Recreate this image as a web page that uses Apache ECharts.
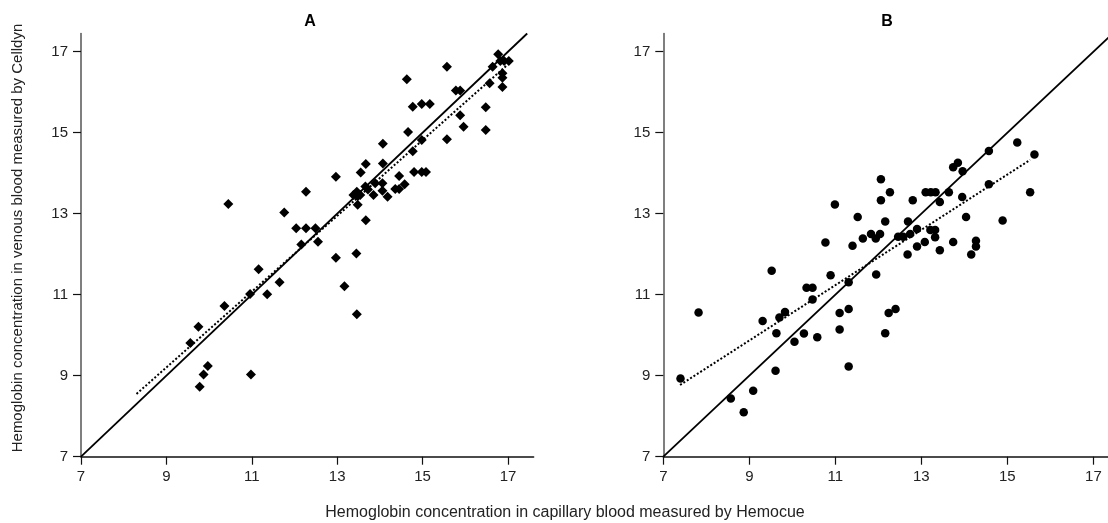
<!DOCTYPE html>
<html>
<head>
<meta charset="utf-8">
<script src="https://cdn.jsdelivr.net/npm/echarts@6/dist/echarts.min.js"></script>
<style>
  html, body { margin: 0; padding: 0; background: #fff; }
  #chart { width: 1108px; height: 523px; }
</style>
</head>
<body>
<div id="chart"></div>
<script>
// tick labels shared by all four axes
var ticks = [7, 9, 11, 13, 15, 17];

// panel A: Hemocue (x) vs Celldyn (y), diamonds
var hemocueA = [9.56, 9.75, 9.78, 9.87, 9.97, 10.98, 10.36, 10.96, 11.16, 11.36, 11.65, 10.45,
    11.76, 12.04, 12.27, 12.49, 12.16, 12.55, 12.27, 12.97, 13.17, 13.45, 13.46, 12.97,
    13.67, 13.48, 13.38, 13.46, 13.54, 13.48, 13.66, 13.72, 13.85, 13.89, 14.06, 14.06,
    14.18, 13.55, 13.67, 14.07, 14.07, 14.36, 14.45, 14.58, 14.45, 14.8, 14.98, 15.08,
    14.66, 14.63, 14.77, 14.98, 15.17, 14.98, 14.77, 15.57, 15.78, 15.88, 15.88, 15.96,
    15.57, 16.48, 16.48, 16.57, 16.64, 16.77, 16.82, 16.91, 17.02, 16.87, 16.87, 16.87];
var celldynA = [9.81, 10.21, 8.73, 9.03, 9.24, 9.03, 10.72, 11.02, 11.63, 11.01, 11.31, 13.24,
    13.03, 12.64, 12.64, 12.64, 12.24, 12.31, 13.54, 11.91, 11.21, 12.02, 10.52, 13.91,
    12.84, 13.22, 13.46, 13.54, 13.46, 13.43, 13.67, 13.6, 13.46, 13.75, 13.75, 13.57,
    13.42, 14.02, 14.23, 14.73, 14.24, 13.61, 13.61, 13.73, 13.93, 14.03, 14.03, 14.03,
    15.02, 16.32, 15.64, 15.71, 15.71, 14.82, 14.54, 16.63, 16.04, 16.04, 15.43, 15.15,
    14.84, 15.63, 15.07, 16.22, 16.63, 16.94, 16.77, 16.77, 16.77, 16.47, 16.36, 16.13];

// panel B: Hemocue (x) vs Celldyn (y), circles
var hemocueB = [7.4, 7.82, 8.57, 8.87, 9.09, 9.61, 11.31, 9.31, 9.63, 9.7, 9.83, 10.05, 10.27,
    10.58, 9.52, 10.33, 10.47, 10.47, 10.89, 10.77, 11.4, 11.31, 11.1, 11.31, 11.1, 11.95,
    10.99, 11.52, 11.64, 11.83, 11.94, 12.04, 12.06, 12.06, 12.27, 12.16, 12.24, 12.4,
    12.16, 12.46, 12.58, 12.74, 12.69, 12.8, 12.68, 12.9, 12.9, 13.08, 13.1, 13.22, 13.33,
    13.21, 13.32, 13.32, 13.43, 13.43, 13.64, 13.74, 13.85, 13.96, 13.95, 14.04, 13.74,
    14.27, 14.27, 14.16, 14.57, 14.57, 14.89, 15.23, 15.63, 15.53];
var celldynB = [8.93, 10.56, 8.44, 8.1, 8.63, 9.12, 9.23, 10.35, 10.05, 10.44, 10.57, 9.84, 10.04,
    9.95, 11.59, 11.17, 11.17, 10.88, 11.48, 12.29, 12.21, 11.31, 10.55, 10.65, 10.14, 11.5,
    13.23, 12.92, 12.39, 12.5, 12.39, 12.5, 13.85, 13.33, 13.53, 12.81, 10.55, 10.65,
    10.05, 12.43, 12.43, 12.5, 12.81, 13.33, 11.99, 12.62, 12.19, 12.3, 13.53, 13.53, 13.53,
    12.6, 12.6, 12.42, 13.29, 12.1, 13.53, 14.15, 14.26, 14.05, 13.41, 12.92, 12.3,
    12.33, 12.19, 11.99, 14.55, 13.73, 12.83, 14.76, 14.46, 13.53];

// line of identity and fitted lines (end points)
var identity = [[7, 7], [17.45, 17.45]];
var fitA = [[8.3, 8.55], [16.98, 16.67]];
var fitB = [[7.39, 8.77], [15.53, 14.33]];

function pairs(xs, ys) {
    return xs.map(function (x, i) { return [x, ys[i]]; });
}

var dom = document.getElementById('chart');
var myChart = echarts.init(dom, null, { renderer: 'canvas' });

var labelFont = { fontFamily: 'Liberation Sans', fontSize: 15, color: '#222' };

function xAxisFor(idx, max) {
    return {
        gridIndex: idx,
        type: 'value',
        min: 7,
        max: max,
        splitLine: { show: false },
        axisLine: { lineStyle: { color: '#111', width: 1.5 } },
        axisTick: { length: 8, lineStyle: { color: '#111', width: 1.2 }, customValues: ticks },
        axisLabel: Object.assign({ margin: 13, customValues: ticks }, labelFont)
    };
}

function yAxisFor(idx) {
    return {
        gridIndex: idx,
        type: 'value',
        min: 7,
        max: 17.45,
        splitLine: { show: false },
        axisLine: { show: true, lineStyle: { color: '#555', width: 1.5 } },
        axisTick: { show: true, length: 8, lineStyle: { color: '#111', width: 1.2 }, customValues: ticks },
        axisLabel: Object.assign({ margin: 13, customValues: ticks }, labelFont)
    };
}

var option = {
    animation: false,
    backgroundColor: '#fff',
    grid: [
        { left: 81, top: 33.5, width: 452.6, height: 423.2 },
        { left: 663.3, top: 33.5, width: 444.7, height: 423.2 }
    ],
    xAxis: [xAxisFor(0, 17.6), xAxisFor(1, 17.34)],
    yAxis: [yAxisFor(0), yAxisFor(1)],
    graphic: [
        { type: 'text', x: 310, y: 22, style: { text: 'A', textAlign: 'center', textVerticalAlign: 'middle',
            fontFamily: 'Liberation Sans', fontSize: 16, fontWeight: 'bold', fill: '#000' } },
        { type: 'text', x: 887, y: 22, style: { text: 'B', textAlign: 'center', textVerticalAlign: 'middle',
            fontFamily: 'Liberation Sans', fontSize: 16, fontWeight: 'bold', fill: '#000' } },
        { type: 'text', x: 565, y: 513, style: { text: 'Hemoglobin concentration in capillary blood measured by Hemocue',
            textAlign: 'center', textVerticalAlign: 'middle', fontFamily: 'Liberation Sans', fontSize: 16, fill: '#222' } },
        { type: 'text', x: 18, y: 238, rotation: Math.PI / 2, style: { text: 'Hemoglobin concentration in venous blood measured by Celldyn',
            textAlign: 'center', textVerticalAlign: 'middle', fontFamily: 'Liberation Sans', fontSize: 15, fill: '#222' } }
    ],
    series: [
        {
            type: 'line', xAxisIndex: 0, yAxisIndex: 0, data: identity, symbol: 'none',
            lineStyle: { color: '#000', width: 1.8 }, z: 1
        },
        {
            type: 'line', xAxisIndex: 0, yAxisIndex: 0, data: fitA, symbol: 'none',
            lineStyle: { color: '#000', width: 2, type: [2, 2] }, z: 1
        },
        {
            type: 'scatter', xAxisIndex: 0, yAxisIndex: 0, data: pairs(hemocueA, celldynA),
            symbol: 'diamond', symbolSize: 10, itemStyle: { color: '#000', opacity: 1 }, z: 3
        },
        {
            type: 'line', xAxisIndex: 1, yAxisIndex: 1, data: identity, symbol: 'none',
            lineStyle: { color: '#000', width: 1.8 }, z: 1
        },
        {
            type: 'line', xAxisIndex: 1, yAxisIndex: 1, data: fitB, symbol: 'none',
            lineStyle: { color: '#000', width: 2, type: [2, 2] }, z: 1
        },
        {
            type: 'scatter', xAxisIndex: 1, yAxisIndex: 1, data: pairs(hemocueB, celldynB),
            symbol: 'circle', symbolSize: 8.5, itemStyle: { color: '#000', opacity: 1 }, z: 3
        }
    ]
};

myChart.setOption(option);
window.addEventListener('resize', myChart.resize);
</script>
</body>
</html>
